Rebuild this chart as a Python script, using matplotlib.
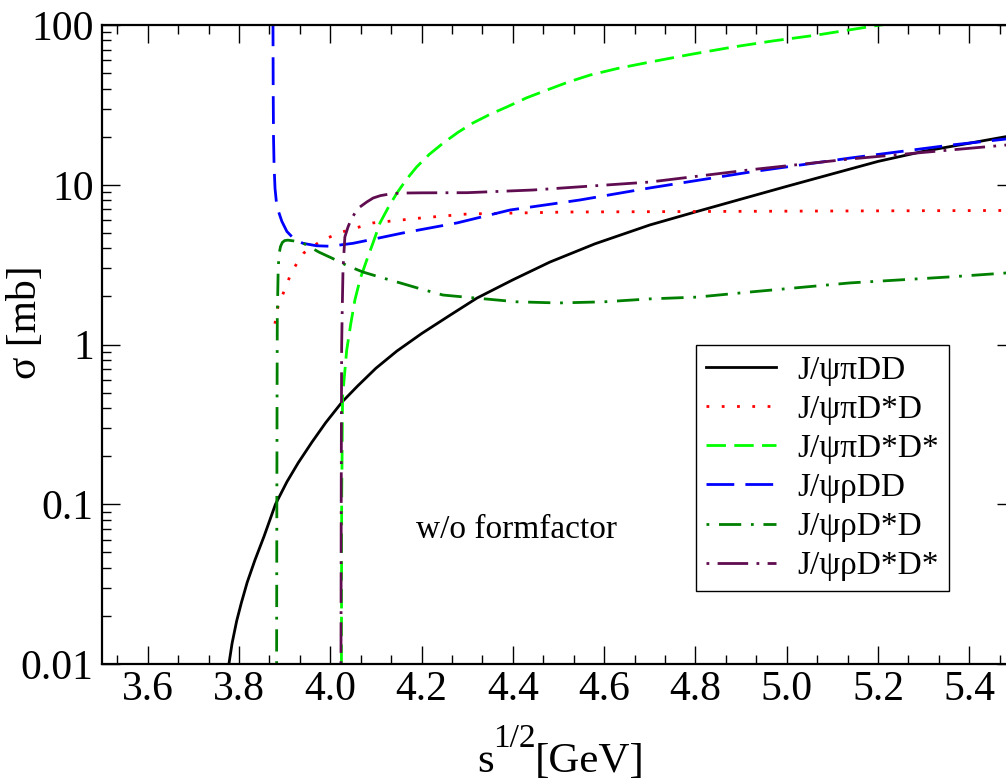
import numpy as np
import matplotlib
matplotlib.use('Agg')
import matplotlib.pyplot as plt
from matplotlib.ticker import FixedLocator, AutoMinorLocator, LogLocator, FuncFormatter

plt.rcParams['font.family'] = ['Liberation Serif', 'DejaVu Serif']

# --- Datos (sqrt(s) en GeV, sigma en mb) ---
x_pi_DD = [3.778, 3.785, 3.795, 3.805, 3.818, 3.835, 3.855, 3.880, 3.905, 3.930,
           3.960, 3.990, 4.026, 4.06, 4.10, 4.146, 4.20, 4.26, 4.321, 4.40,
           4.481, 4.58, 4.70, 4.80, 4.90, 5.00, 5.10, 5.20, 5.30, 5.40, 5.478, 5.5]
y_pi_DD = [0.0100, 0.0135, 0.0186, 0.024, 0.0324, 0.0447, 0.063, 0.100, 0.138, 0.182,
           0.245, 0.324, 0.437, 0.55, 0.71, 0.91, 1.17, 1.51, 1.95, 2.54,
           3.28, 4.27, 5.6, 6.76, 8.13, 9.77, 11.7, 14.0, 16.2, 18.2, 19.95, 20.4]

x_pi_DsD = [3.879, 3.881, 3.886, 3.899, 3.916, 3.942, 3.982, 4.026, 4.094, 4.20,
            4.30, 4.519, 4.80, 5.10, 5.463, 5.5]
y_pi_DsD = [1.35, 1.5, 1.75, 2.16, 2.88, 3.74, 4.5, 5.06, 5.77, 6.2,
            6.56, 6.75, 6.8, 6.85, 6.9, 6.9]

x_pi_DsDs = [4.0245, 4.025, 4.027, 4.036, 4.045, 4.054, 4.066, 4.080, 4.094, 4.109,
             4.127, 4.146, 4.167, 4.189, 4.217, 4.247, 4.28, 4.313, 4.35, 4.387,
             4.43, 4.475, 4.52, 4.569, 4.63, 4.70, 4.79, 4.882, 4.97, 5.066,
             5.13, 5.20, 5.30]
y_pi_DsDs = [0.01, 0.1, 0.47, 0.92, 1.35, 1.90, 2.6, 3.38, 4.35, 5.77,
             7.2, 8.87, 10.8, 12.9, 15.5, 18.2, 21.3, 24.4, 27.6, 30.7,
             35.0, 39.2, 43.8, 48.6, 53.5, 58.6, 65.5, 72.8, 79.5, 86.5,
             92.5, 99.5, 108]

x_rho_DD = [3.8745, 3.875, 3.8757, 3.877, 3.879, 3.883, 3.894, 3.905, 3.92, 3.94,
            3.97, 4.00, 4.05, 4.10, 4.159, 4.278, 4.394, 4.547, 4.70, 4.919,
            5.139, 5.358, 5.478, 5.5]
y_rho_DD = [110, 40, 20, 13, 9.5, 7.3, 5.9, 5.1, 4.6, 4.3,
            4.15, 4.12, 4.3, 4.6, 4.99, 5.77, 6.95, 8.03, 9.55, 12.0,
            14.7, 17.7, 19.3, 19.6]

x_rho_DsD = [3.8825, 3.883, 3.8835, 3.884, 3.886, 3.888, 3.891, 3.895, 3.900, 3.907,
             3.920, 3.940, 3.975, 4.003, 4.039, 4.072, 4.107, 4.153, 4.200, 4.247,
             4.321, 4.409, 4.50, 4.60, 4.70, 4.803, 4.919, 5.139, 5.358, 5.478, 5.5]
y_rho_DsD = [0.01, 0.1, 0.5, 1.5, 3.0, 3.7, 4.1, 4.35, 4.47, 4.5,
             4.45, 4.32, 3.79, 3.48, 3.10, 2.84, 2.65, 2.43, 2.22, 2.04,
             1.95, 1.85, 1.82, 1.85, 1.93, 1.98, 2.13, 2.43, 2.65, 2.8, 2.83]

x_rho_DsDs = [4.0235, 4.024, 4.0245, 4.025, 4.026, 4.028, 4.032, 4.039, 4.045, 4.054,
              4.065, 4.08, 4.094, 4.11, 4.13, 4.153, 4.20, 4.30, 4.444, 4.70,
              4.919, 5.139, 5.358, 5.478, 5.5]
y_rho_DsDs = [0.01, 0.1, 0.4, 0.97, 1.5, 3.0, 4.71, 5.45, 6.0, 6.65,
              7.26, 7.8, 8.26, 8.55, 8.75, 8.87, 8.9, 8.92, 9.27, 10.4,
              12.4, 14.5, 16.5, 17.7, 17.9]

labels = ['J/ψπDD', 'J/ψπD*D', 'J/ψπD*D*', 'J/ψρDD', 'J/ψρD*D', 'J/ψρD*D*']
y_ticks = [0.01, 0.1, 1, 10, 100]
y_ticklabels = ['0.01', '0.1', '1', '10', '100']
x_ticks = [3.6, 3.8, 4.0, 4.2, 4.4, 4.6, 4.8, 5.0, 5.2, 5.4]

# --- Figura ---
W, H = 1006, 783
fig = plt.figure(figsize=(W / 100, H / 100), dpi=100)
ax = fig.add_axes([102 / W, (H - 664) / H, 913 / W, 639 / H])

lw = 2.0
ax.plot(x_pi_DD, y_pi_DD, color='black', lw=lw, label=labels[0])
ax.plot(x_pi_DsD, y_pi_DsD, color='#ff0000', lw=lw, ls=(0, (1, 4.5)), label=labels[1])
ax.plot(x_pi_DsDs, y_pi_DsDs, color='#00ff00', lw=lw, ls=(0, (7, 3)), label=labels[2])
ax.plot(x_rho_DD, y_rho_DD, color='#0000ff', lw=lw, ls=(0, (10, 4)), label=labels[3])
ax.plot(x_rho_DsD, y_rho_DsD, color='#008000', lw=lw, ls=(0, (1, 3.5, 8, 3.5)), label=labels[4])
ax.plot(x_rho_DsDs, y_rho_DsDs, color='#600c50', lw=lw, ls=(0, (1, 3, 11, 3)), label=labels[5])

ax.set_yscale('log')
ax.set_xlim(3.5, 5.5)
ax.set_ylim(0.01, 100)

ax.xaxis.set_major_locator(FixedLocator(x_ticks))
ax.xaxis.set_major_formatter(FuncFormatter(lambda v, p: f'{v:.1f}'))
ax.xaxis.set_minor_locator(AutoMinorLocator(3))
ax.yaxis.set_major_locator(FixedLocator(y_ticks))
ax.yaxis.set_major_formatter(FuncFormatter(
    lambda v, p: y_ticklabels[y_ticks.index(v)] if v in y_ticks else ''))
ax.yaxis.set_minor_locator(LogLocator(base=10, subs=np.arange(2, 10)))
ax.yaxis.set_minor_formatter(FuncFormatter(lambda v, p: ''))

ax.tick_params(which='both', direction='in', top=True, right=True, width=1.0)
ax.tick_params(which='major', length=13, labelsize=30)
ax.tick_params(which='minor', length=6.5)
ax.tick_params(axis='x', which='major', pad=5)
ax.tick_params(axis='y', which='major', pad=6)
for sp in ax.spines.values():
    sp.set_linewidth(1.6)

# etiqueta del eje x: s, superíndice 1/2 y [GeV] colocados a mano
fig.text(477 / W, (H - 772) / H, 's', fontsize=31, ha='left', va='baseline')
fig.text(493 / W, (H - 747) / H, '1/2', fontsize=24, ha='left', va='baseline')
fig.text(535 / W, (H - 772) / H, '[GeV]', fontsize=31, ha='left', va='baseline')

ax.set_ylabel('σ [mb]', fontsize=30)
ax.yaxis.set_label_coords(-0.062, 0.535)

fig.text(517 / W, (H - 530) / H, 'w/o formfactor', fontsize=24, ha='center', va='center')

leg = ax.legend(loc='upper left', bbox_to_anchor=(696 / W, (H - 345) / H),
                bbox_transform=fig.transFigure, fontsize=24, frameon=True,
                fancybox=False, edgecolor='black', framealpha=1,
                handlelength=2.1, handletextpad=0.65, labelspacing=0.26,
                borderpad=0.3, borderaxespad=0)
leg.get_frame().set_linewidth(1.0)

fig.savefig('out.png', dpi=100)
